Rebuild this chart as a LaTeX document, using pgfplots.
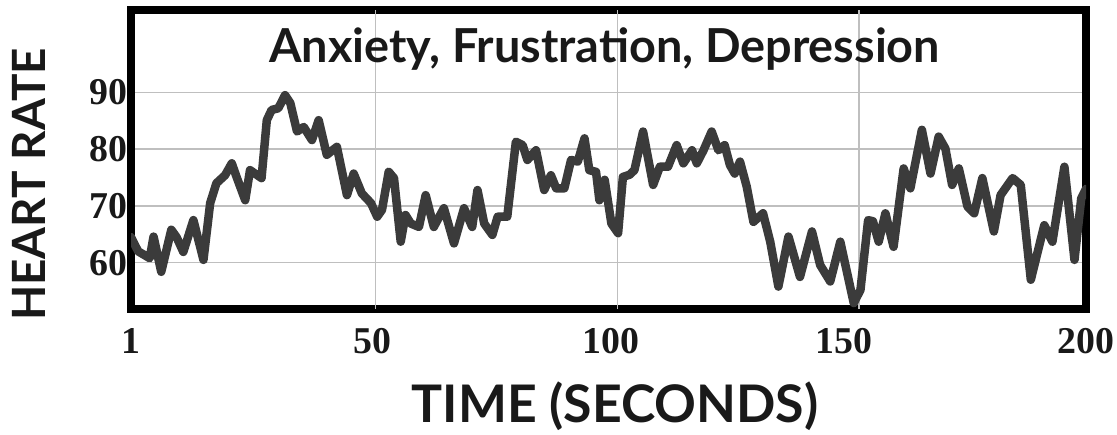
\documentclass[border=0pt]{standalone}
\usepackage{pgfplots}
\pgfplotsset{compat=1.18}
\usepackage{fontspec}
\setmainfont{Liberation Serif}
\newfontfamily\labfont{Lato}
\begin{document}
\begin{tikzpicture}
\useasboundingbox (0,0) rectangle (1117bp,435bp);
\begin{axis}[
  at={(131bp,126bp)}, anchor=south west,
  scale only axis, width=955bp, height=299bp,
  xmin=1, xmax=200, ymin=51.85, ymax=104.5,
  xtick={1,51.4,101.1,149.6,200},
  xticklabels={1,50,100,150,200},
  ytick={60,70,80,90},
  major tick length=0pt,
  ymajorgrids=true, xmajorgrids=false,
  extra x ticks={52,102.4,152.7},
  extra x tick labels={},
  extra x tick style={grid=major, major tick length=0pt},
  grid style={black!25, line width=1.4bp},
  axis line style={line width=7.5bp, black},
  /pgf/number format/assume math mode=true,
  ticklabel style={font=\fontsize{38}{40}\selectfont\bfseries, text=black!90},
  xticklabel style={yshift=-16bp},
  title={Anxiety, Frustration, Depression},
  title style={at={(0.496,0.823)}, anchor=base, yshift=-6bp, font=\labfont\fontsize{47}{52}\selectfont\bfseries, text=black!90},
  xlabel={TIME (SECONDS)},
  xlabel style={at={(0.5068,-0.381)}, anchor=base, font=\labfont\fontsize{52}{56}\selectfont\bfseries, text=black!90},
  ylabel={HEART RATE},
  ylabel style={at={(-0.1068,0.4164)}, anchor=center, font=\labfont\fontsize{46}{50}\selectfont\bfseries, text=black!90},
]
\addplot[color=black!77, line width=8.5bp, line join=round, line cap=round] coordinates {
(1,64.5) (2.5,62) (4.9,60.8) (5.7,64.6) (7.3,58.4) (9.4,65.8) (10.5,64.5) (11.9,61.9)
(14.0,67.5) (16.1,60.5) (17.5,70.5) (18.8,74.0) (20.6,75.4) (22.0,77.5) (23.0,75.1)
(24.8,71.0) (25.8,76.3) (28.2,74.9) (29.3,85.1) (30.3,86.9) (31.7,87.2) (33.1,89.5)
(34.2,88.1) (35.6,83.1) (37.0,83.9) (38.7,81.6) (40.1,85.1) (41.8,79.0) (43.9,80.4)
(46.0,71.9) (47.4,75.7) (49.1,72.2) (51.0,70.5) (52.3,68.1) (53.3,69.3) (54.7,76.0)
(55.8,74.9) (57.2,63.7) (58.2,68.4) (59.3,66.9) (61.0,66.3) (62.4,71.9) (64.1,66.3)
(66.2,69.6) (68.3,63.4) (70.4,69.6) (72.1,66.3) (73.2,72.8) (74.6,66.9) (76.3,64.9)
(77.4,68.1) (79.4,68.1) (81.2,81.3) (82.6,80.7) (83.6,78.1) (85.4,79.8) (87.1,72.8)
(88.5,75.4) (89.6,73.1) (91.3,73.1) (92.7,78.1) (94.1,77.8) (95.5,81.9) (96.5,76.3)
(97.9,76.0) (98.6,71.0) (99.7,74.6) (101.1,66.9) (102.5,65.2) (103.5,75.1) (104.9,75.5)
(105.9,76.3) (107.7,83.1) (109.8,73.7) (111.2,76.9) (112.9,76.9) (114.7,80.7) (116.1,77.5)
(117.9,79.8) (118.9,77.5) (120.3,79.8) (122.0,83.1) (123.4,79.8) (124.7,80.7) (125.8,77.2)
(126.8,75.7) (127.9,77.8) (129.3,73.4) (130.7,67.2) (132.7,68.7) (134.2,63.7) (135.9,55.8)
(138.0,64.6) (140.4,57.5) (142.9,65.5) (144.6,59.6) (146.7,56.7) (148.8,63.7) (151.6,52.9)
(153.0,55.2) (154.6,67.5) (155.6,67.3) (156.8,63.7) (158.2,68.7) (159.9,62.8) (162.0,76.6)
(163.4,73.1) (165.8,83.4) (167.6,75.7) (169.3,82.2) (170.7,80.1) (172.1,73.7) (173.5,76.6)
(175.3,69.9) (176.7,68.7) (178.4,74.9) (180.8,65.5) (182.2,71.9) (184.7,74.9) (186.4,73.7)
(188.5,57.0) (191.3,66.6) (193.0,63.7) (195.5,76.9) (197.6,60.5) (199.0,71.3) (200,73)
};
\end{axis}
\end{tikzpicture}
\end{document}
